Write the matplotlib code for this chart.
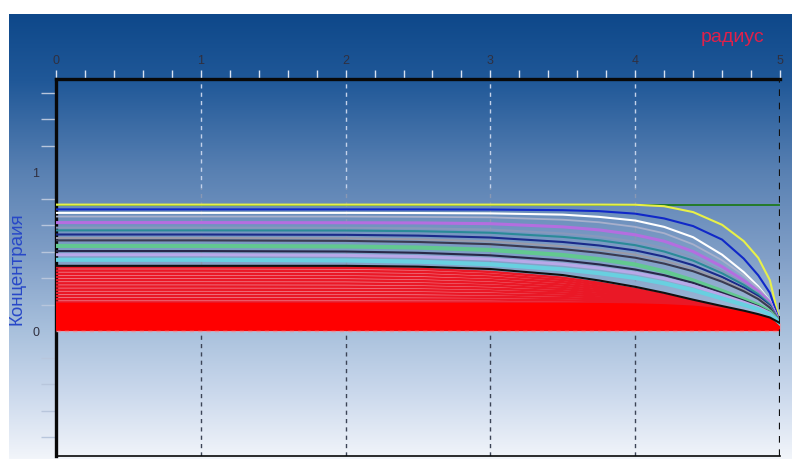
import numpy as np
import matplotlib
matplotlib.use('Agg')
import matplotlib.pyplot as plt
from matplotlib.ticker import FixedLocator, MultipleLocator

plt.rcParams['font.family'] = ['Liberation Sans', 'DejaVu Sans']

# radius grid (x) and concentration profiles
radius = [0, 1, 2, 2.5, 3, 3.5, 3.75, 4, 4.2, 4.4, 4.6, 4.75, 4.85, 4.93, 5]

conc_green    = [0.795, 0.795, 0.795, 0.795, 0.795, 0.795, 0.795, 0.795, 0.795, 0.795, 0.795, 0.795, 0.795, 0.795, 0.795]
conc_yellow   = [0.795, 0.795, 0.795, 0.795, 0.795, 0.795, 0.795, 0.794, 0.785, 0.748, 0.668, 0.565, 0.460, 0.320, 0.05]
conc_blue     = [0.765, 0.765, 0.765, 0.765, 0.764, 0.760, 0.754, 0.738, 0.708, 0.660, 0.575, 0.455, 0.350, 0.240, 0.05]
conc_white    = [0.743, 0.743, 0.743, 0.742, 0.740, 0.732, 0.718, 0.695, 0.655, 0.590, 0.480, 0.370, 0.280, 0.190, 0.05]
conc_grey1    = [0.720, 0.720, 0.720, 0.718, 0.715, 0.700, 0.684, 0.655, 0.615, 0.545, 0.445, 0.350, 0.270, 0.190, 0.05]
conc_purple   = [0.682, 0.682, 0.681, 0.680, 0.675, 0.655, 0.636, 0.605, 0.565, 0.500, 0.405, 0.318, 0.250, 0.180, 0.05]
conc_greyblue = [0.650, 0.650, 0.649, 0.646, 0.638, 0.614, 0.594, 0.562, 0.522, 0.462, 0.378, 0.300, 0.238, 0.172, 0.05]
conc_teal     = [0.633, 0.633, 0.632, 0.628, 0.618, 0.592, 0.571, 0.540, 0.500, 0.443, 0.363, 0.290, 0.230, 0.166, 0.05]
conc_navy     = [0.607, 0.607, 0.605, 0.600, 0.588, 0.560, 0.538, 0.507, 0.468, 0.414, 0.340, 0.273, 0.218, 0.158, 0.05]
conc_grey2    = [0.585, 0.585, 0.583, 0.577, 0.563, 0.533, 0.511, 0.480, 0.442, 0.392, 0.323, 0.260, 0.208, 0.152, 0.05]
conc_dark1    = [0.570, 0.570, 0.567, 0.560, 0.546, 0.515, 0.492, 0.461, 0.424, 0.376, 0.310, 0.250, 0.201, 0.147, 0.05]
conc_green2   = [0.535, 0.535, 0.532, 0.525, 0.510, 0.478, 0.452, 0.418, 0.375, 0.318, 0.252, 0.200, 0.163, 0.122, 0.05]
conc_dark2    = [0.503, 0.503, 0.500, 0.492, 0.476, 0.444, 0.419, 0.387, 0.351, 0.303, 0.240, 0.191, 0.156, 0.118, 0.05]
conc_lavender = [0.480, 0.480, 0.476, 0.468, 0.452, 0.420, 0.396, 0.365, 0.330, 0.285, 0.227, 0.181, 0.148, 0.113, 0.05]
conc_cyan     = [0.448, 0.448, 0.444, 0.436, 0.420, 0.388, 0.364, 0.334, 0.300, 0.257, 0.205, 0.165, 0.136, 0.105, 0.05]
conc_black    = [0.410, 0.410, 0.410, 0.405, 0.390, 0.352, 0.318, 0.278, 0.240, 0.197, 0.157, 0.128, 0.106, 0.085, 0.05]

red_upper = [
    [0.400, 0.400, 0.398, 0.391, 0.372, 0.335, 0.303, 0.264, 0.229, 0.186, 0.146, 0.119, 0.097, 0.078, 0.05],
    [0.380, 0.380, 0.378, 0.372, 0.355, 0.321, 0.292, 0.256, 0.223, 0.183, 0.145, 0.118, 0.097, 0.078, 0.05],
    [0.360, 0.360, 0.358, 0.353, 0.337, 0.307, 0.280, 0.247, 0.218, 0.180, 0.144, 0.118, 0.097, 0.078, 0.05],
    [0.340, 0.340, 0.339, 0.333, 0.320, 0.292, 0.269, 0.239, 0.212, 0.177, 0.143, 0.117, 0.097, 0.078, 0.05],
    [0.320, 0.320, 0.319, 0.314, 0.302, 0.278, 0.257, 0.231, 0.206, 0.174, 0.142, 0.117, 0.097, 0.078, 0.05],
    [0.300, 0.300, 0.299, 0.295, 0.285, 0.264, 0.246, 0.223, 0.200, 0.171, 0.141, 0.116, 0.096, 0.077, 0.05],
    [0.280, 0.280, 0.279, 0.276, 0.267, 0.250, 0.234, 0.214, 0.195, 0.168, 0.140, 0.116, 0.096, 0.077, 0.05],
    [0.260, 0.260, 0.259, 0.257, 0.250, 0.236, 0.223, 0.206, 0.189, 0.165, 0.139, 0.115, 0.096, 0.077, 0.05],
    [0.240, 0.240, 0.239, 0.238, 0.232, 0.222, 0.211, 0.198, 0.183, 0.162, 0.138, 0.115, 0.096, 0.077, 0.05],
    [0.220, 0.220, 0.220, 0.218, 0.215, 0.207, 0.200, 0.190, 0.177, 0.159, 0.137, 0.115, 0.096, 0.077, 0.05],
    [0.200, 0.200, 0.200, 0.199, 0.198, 0.193, 0.189, 0.181, 0.171, 0.156, 0.136, 0.114, 0.095, 0.077, 0.05],
    [0.180, 0.180, 0.180, 0.180, 0.180, 0.179, 0.177, 0.173, 0.166, 0.153, 0.135, 0.114, 0.095, 0.077, 0.05],
]

red_lower = [
    [0.165, 0.165, 0.165, 0.165, 0.165, 0.165, 0.164, 0.162, 0.157, 0.148, 0.131, 0.111, 0.093, 0.075, 0.05],
    [0.148, 0.148, 0.148, 0.148, 0.148, 0.148, 0.148, 0.146, 0.142, 0.134, 0.120, 0.103, 0.088, 0.072, 0.05],
    [0.130, 0.130, 0.130, 0.130, 0.130, 0.130, 0.130, 0.129, 0.126, 0.120, 0.109, 0.095, 0.083, 0.069, 0.05],
    [0.113, 0.113, 0.113, 0.113, 0.113, 0.113, 0.113, 0.112, 0.110, 0.106, 0.098, 0.088, 0.078, 0.066, 0.05],
    [0.095, 0.095, 0.095, 0.095, 0.095, 0.095, 0.095, 0.095, 0.094, 0.091, 0.086, 0.079, 0.072, 0.063, 0.05],
    [0.078, 0.078, 0.078, 0.078, 0.078, 0.078, 0.078, 0.078, 0.078, 0.077, 0.074, 0.070, 0.065, 0.059, 0.05],
    [0.060, 0.060, 0.060, 0.060, 0.060, 0.060, 0.060, 0.060, 0.060, 0.060, 0.059, 0.057, 0.055, 0.053, 0.05],
    [0.043, 0.043, 0.043, 0.043, 0.043, 0.043, 0.043, 0.043, 0.043, 0.043, 0.043, 0.043, 0.042, 0.040, 0.037],
    [0.026, 0.026, 0.026, 0.026, 0.026, 0.026, 0.026, 0.026, 0.026, 0.026, 0.026, 0.026, 0.026, 0.025, 0.024],
    [0.010, 0.010, 0.010, 0.010, 0.010, 0.010, 0.010, 0.010, 0.010, 0.010, 0.010, 0.010, 0.010, 0.010, 0.010],
]

x_major = [0, 1, 2, 3, 4, 5]
y_major = [0, 1]

fig = plt.figure(figsize=(7.92, 4.59), dpi=100)

# gradient panel behind the chart
bg = fig.add_axes([9/792, 0, 1 - 9/792, 445/459])
bg.set_axis_off()
stops = np.array([0.0, 0.15, 0.35, 0.55, 0.71, 0.85, 1.0])
cols = np.array([[14, 72, 138], [32, 88, 152], [88, 128, 178], [130, 160, 200],
                 [168, 192, 220], [202, 216, 236], [242, 245, 250]]) / 255.0
t = np.linspace(0, 1, 445)
grad = np.stack([np.interp(t, stops, cols[:, k]) for k in range(3)], axis=-1)
bg.imshow(grad[:, None, :].repeat(4, axis=1), aspect='auto', extent=[0, 1, 0, 1])

ax = fig.add_axes([56/792, 1 - 456/459, 724/792, 377/459])
ax.set_facecolor('none')
ax.set_xlim(0, 5)
ax.set_ylim(-0.786, 1.585)

# grid lines (xor-like: light on dark background, dark on light)
dash = (0, (3, 3))
ax.vlines([1, 2, 3, 4], 0.9, 1.585, colors='#c4d2ea', linestyles=dash, lw=1, zorder=1)
ax.vlines([1, 2, 3, 4], 0.0, 0.9, colors='#8898b4', linestyles=dash, lw=1, zorder=1)
ax.vlines([1, 2, 3, 4], -0.786, 0.0, colors='#3c4456', linestyles=dash, lw=1, zorder=1)
ax.vlines([5], -0.786, 1.585, colors='#101010', linestyles=dash, lw=1.6, zorder=6)

# red stack
ax.fill_between(radius, red_upper[0], 0, color='#f0929e', lw=0, zorder=2)
for row in red_upper:
    ax.plot(radius, row, color='#ea1826', lw=1.8, zorder=3)
for row in red_lower:
    ax.plot(radius, row, color='#ff0000', lw=2.8, zorder=3, solid_capstyle='butt')

curves = [
    (conc_green, '#1e7a1e', 1.3),
    (conc_yellow, '#e8f048', 1.5),
    (conc_blue, '#1028c8', 1.5),
    (conc_white, '#ffffff', 1.5),
    (conc_grey1, '#a8b0cc', 1.3),
    (conc_purple, '#b46ee0', 2.2),
    (conc_greyblue, '#8898bc', 1.5),
    (conc_teal, '#2a8a98', 1.5),
    (conc_navy, '#1a2a8a', 1.5),
    (conc_grey2, '#9a9aa8', 1.5),
    (conc_dark1, '#3a3a50', 1.5),
    (conc_green2, '#62c890', 3.0),
    (conc_dark2, '#282848', 1.5),
    (conc_lavender, '#b8a8e8', 2.2),
    (conc_cyan, '#68d0e0', 3.0),
    (conc_black, '#101010', 1.5),
]
for vals, c, lw in curves:
    ax.plot(radius, vals, color=c, lw=lw, zorder=4)

ax.axhline(0, color='#e8909c', lw=1, ls=dash, zorder=5)

# spines
ax.spines['right'].set_visible(False)
ax.spines['top'].set_linewidth(2.4)
ax.spines['left'].set_linewidth(2.4)
ax.spines['bottom'].set_linewidth(1.2)
for s in ['top', 'left', 'bottom']:
    ax.spines[s].set_color('#080808')

ax.xaxis.tick_top()
ax.xaxis.set_major_locator(FixedLocator(x_major))
ax.xaxis.set_minor_locator(MultipleLocator(0.2))
ax.set_xticklabels([str(v) for v in x_major])
ax.tick_params(axis='x', which='both', direction='out', length=6.5, width=1,
               color='#d8e2f2', labelsize=9, labelcolor='#303040', pad=2)

ax.yaxis.set_major_locator(FixedLocator(y_major))
ax.yaxis.set_minor_locator(MultipleLocator(1/6))
ax.set_yticklabels([str(v) for v in y_major])
ax.tick_params(axis='y', which='minor', direction='out', length=11, width=1,
               color='#b8c6dc')
ax.tick_params(axis='y', which='major', direction='out', length=0,
               labelsize=9, labelcolor='#303040', pad=12)
fig.canvas.draw()
for tk in ax.yaxis.get_minor_ticks():
    if tk.get_loc() < 0.2:
        tk.tick1line.set_color('#4a5266')

fig.text(733/792, 1 - 37/459, 'радиус', color='#e0204a', fontsize=14,
         ha='center', va='center')
fig.text(17/792, 1 - 269/459, 'Концентраия', color='#2848c8', fontsize=13.5,
         rotation=90, ha='center', va='center')

fig.savefig('out.png', dpi=100)
